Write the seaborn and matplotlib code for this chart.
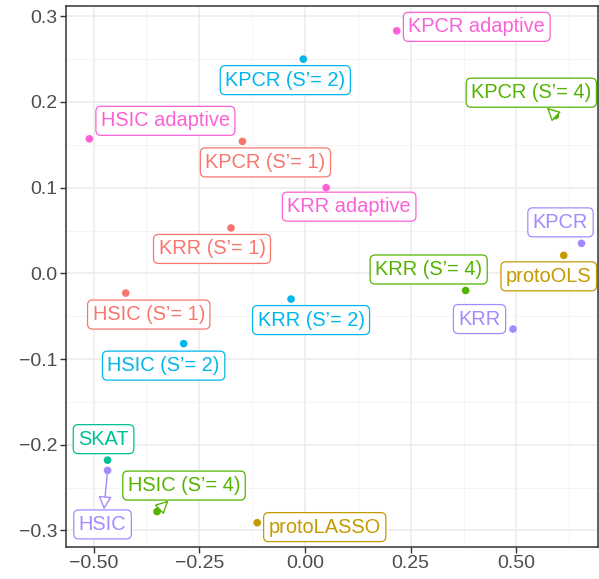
import matplotlib
matplotlib.use("Agg")
import matplotlib.pyplot as plt
import seaborn as sns
import pandas as pd
import numpy as np

# ---- data ----
names = ["KPCR adaptive", "KPCR (S\u2019= 2)", "KPCR (S\u2019= 4)", "HSIC adaptive", "KPCR (S\u2019= 1)",
         "KRR adaptive", "KRR (S\u2019= 1)", "KPCR", "protoOLS", "KRR (S\u2019= 4)",
         "HSIC (S\u2019= 1)", "KRR (S\u2019= 2)", "HSIC (S\u2019= 2)", "KRR", "SKAT",
         "HSIC", "HSIC (S\u2019= 4)", "protoLASSO"]
x_vals = [0.217, -0.004, 0.592, -0.510, -0.148,
          0.050, -0.175, 0.654, 0.612, 0.380,
          -0.424, -0.033, -0.287, 0.492, -0.467,
          -0.467, -0.350, -0.113]
y_vals = [0.283, 0.250, 0.184, 0.157, 0.154,
          0.100, 0.053, 0.035, 0.021, -0.020,
          -0.023, -0.030, -0.082, -0.065, -0.218,
          -0.230, -0.278, -0.291]
groups = ["adaptive", "S2", "S4", "adaptive", "S1",
          "adaptive", "S1", "base", "proto", "S4",
          "S1", "S2", "S2", "base", "SKAT",
          "base", "S4", "proto"]
group_order = ["S1", "proto", "S4", "SKAT", "S2", "base", "adaptive"]
x_ticks = [-0.50, -0.25, 0.00, 0.25, 0.50]
y_ticks = [-0.3, -0.2, -0.1, 0.0, 0.1, 0.2, 0.3]

# ---- layout (label offsets in pixels: dx right, dy down) ----
label_offsets = [(80, -4), (-18, 21), (-24, -23), (76, -18), (23, 21),
                 (23, 19), (-19, 21), (-21, -21), (-15, 21), (-37, -21),
                 (23, 21.5), (20, 21), (-20, 22), (-33.5, -10), (-4, -21),
                 (-5, 54), (27, -26), (67.5, 4.4)]
arrow_idx = {15, 16, 2}

palette = dict(zip(group_order, ["#F8766D", "#C49A00", "#53B400", "#00C094",
                                 "#00B6EB", "#A58AFF", "#FB61D7"]))

df = pd.DataFrame({"name": names, "x": x_vals, "y": y_vals, "group": groups})

sns.set_theme(style="white")
plt.rcParams["font.family"] = ["Liberation Sans", "DejaVu Sans"]
plt.rcParams["axes.unicode_minus"] = True

fig = plt.figure(figsize=(5.99, 5.79), dpi=100)
ax = fig.add_axes([65.7 / 599, 1 - 546.7 / 579, (598 - 65.7) / 599, (546.7 - 6) / 579])

ax.set_xlim(-0.566, 0.693)
ax.set_ylim(-0.319, 0.312)

# grid
ax.set_xticks(x_ticks)
ax.set_yticks(y_ticks)
ax.set_xticks([-0.375, -0.125, 0.125, 0.375, 0.625], minor=True)
ax.set_yticks([-0.25, -0.15, -0.05, 0.05, 0.15, 0.25], minor=True)
ax.grid(True, which="major", color="#EBEBEB", lw=1.1, zorder=0)
ax.grid(True, which="minor", color="#F2F2F2", lw=0.6, zorder=0)
ax.set_axisbelow(True)

sns.scatterplot(data=df, x="x", y="y", hue="group", palette=palette,
                hue_order=group_order, s=30, edgecolor="none", legend=False,
                ax=ax, zorder=3)

for i, (n, xv, yv, g) in enumerate(zip(names, x_vals, y_vals, groups)):
    c = palette[g]
    dx, dy = label_offsets[i]
    kw = {}
    if i in arrow_idx:
        kw["arrowprops"] = dict(arrowstyle="<|-,head_length=0.55,head_width=0.28",
                                ec=c, fc="white", lw=1.0, shrinkA=0, shrinkB=3)
    ax.annotate(n, xy=(xv, yv), xytext=(dx, -dy), textcoords="offset pixels",
                ha="center", va="center", fontsize=14.4, color=c,
                bbox=dict(boxstyle="round,pad=0.25,rounding_size=0.25",
                          fc="white", ec=c, lw=0.9),
                zorder=4, **kw)

ax.set_xticklabels(["\u22120.50", "\u22120.25", "0.00", "0.25", "0.50"])
ax.set_yticklabels(["\u22120.3", "\u22120.2", "\u22120.1", "0.0", "0.1", "0.2", "0.3"])
ax.set_xlabel("")
ax.set_ylabel("")
ax.tick_params(axis="both", which="major", length=4, width=1, color="#333333",
               labelsize=14, labelcolor="#4D4D4D", direction="out", pad=2)
ax.tick_params(axis="both", which="minor", length=0)
ax.xaxis.set_ticks_position("bottom")
ax.yaxis.set_ticks_position("left")
for sp in ax.spines.values():
    sp.set_color("#333333")
    sp.set_linewidth(1.1)
    sp.set_visible(True)

fig.savefig("out.png", dpi=100)
